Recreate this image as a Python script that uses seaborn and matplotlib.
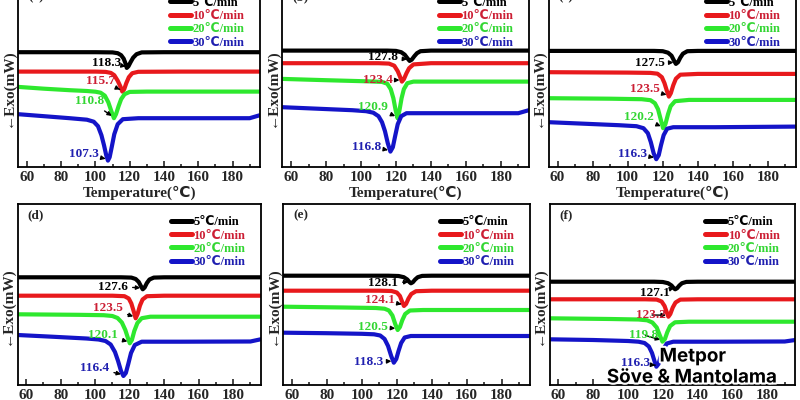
import numpy as np
import matplotlib.pyplot as plt
import matplotlib.patheffects as pe
import pandas as pd
import seaborn as sns

rates = ["5℃/min", "10℃/min", "20℃/min", "30℃/min"]
line_colors = ["#000000", "#e8191c", "#2ee82e", "#1414c8"]
text_colors = ["#000000", "#cc1f35", "#33d633", "#2020b0"]
panel_tags = ["(a)", "(b)", "(c)", "(d)", "(e)", "(f)"]

# peak temperatures written on each panel
peaks_a = [118.3, 115.7, 110.8, 107.3]
peaks_b = [127.8, 123.4, 120.9, 116.8]
peaks_c = [127.5, 123.5, 120.2, 116.3]
peaks_d = [127.6, 123.5, 120.1, 116.4]
peaks_e = [128.1, 124.1, 120.5, 118.3]
peaks_f = [127.1, 123.2, 119.8, 116.3]

# heat flow traces (arbitrary units)
a5_t = [55, 100, 110, 113, 115, 116.5, 117.5, 118.3, 119.3, 120.5, 122, 124, 127, 140, 196]
a5_h = [115, 115, 114.8, 114, 112, 108.5, 104, 99.3, 101, 105, 109.5, 113, 114.8, 115, 115]
a10_t = [55, 100, 106, 109, 111, 113, 114.5, 115.7, 116.8, 118, 119.5, 121.5, 125, 150, 196]
a10_h = [95.6, 95.6, 95.3, 94.3, 92, 86.5, 81, 75.6, 78, 84, 90, 94, 95.4, 95.6, 95.6]
a20_t = [55, 70, 85, 95, 100, 103, 105.5, 107.5, 109.5, 110.8, 112, 113.5, 115, 117, 120, 130, 196]
a20_h = [80.3, 78.5, 77, 76.2, 75.5, 74.5, 71.5, 65, 55, 49, 53, 61, 68, 73, 75.3, 75.6, 75.6]
a30_t = [55, 70, 85, 95, 99, 101.5, 103.5, 105, 106.3, 107.3, 108.3, 109.5, 111, 113, 116, 125, 190, 196]
a30_h = [53, 51, 49, 47.5, 45.5, 41, 32, 22, 12, 6.6, 10, 20, 33, 43, 48, 49, 49, 52]

b5_t = [55, 115, 120, 123, 125, 126.5, 127.8, 129, 130.5, 132, 134, 140, 196]
b5_h = [116.6, 116.6, 116.3, 115, 112.5, 109, 106.3, 107.5, 111, 114, 116, 116.6, 116.6]
b10_t = [55, 110, 116, 119, 121, 122.3, 123.4, 124.5, 126, 127.5, 130, 140, 196]
b10_h = [104, 104, 103.6, 101.5, 96, 90.5, 85.6, 88, 94, 99, 102.8, 104, 104]
b20_t = [55, 80, 105, 112, 115, 117, 118.5, 119.8, 120.9, 122, 123.2, 124.5, 126.5, 130, 196]
b20_h = [88.3, 87, 85.8, 85.3, 83.5, 78, 69, 57, 49, 57, 69, 78, 84, 85.6, 85.6]
b30_t = [55, 75, 95, 103, 107, 110, 112, 113.7, 115.3, 116.8, 118.2, 119.5, 121, 123, 126, 150, 190, 196]
b30_h = [60, 58.5, 57, 56, 54.5, 51, 45, 36, 24, 15.6, 20, 31, 43, 51, 54, 54, 54, 57]

c5_t = [55, 115, 120, 123, 125, 126.3, 127.5, 128.7, 130, 131.5, 134, 140, 196]
c5_h = [116.3, 116.3, 116, 114.5, 111.5, 107, 103.3, 105, 109.5, 113.5, 116, 116.3, 116.3]
c10_t = [55, 100, 113, 117, 119.5, 121, 122.4, 123.5, 124.6, 126, 127.5, 130, 140, 196]
c10_h = [95, 94.6, 94.3, 93.5, 90, 84, 76, 70.6, 74, 82, 88.5, 92.5, 93.3, 93.3]
c20_t = [55, 90, 108, 113, 115.5, 117.3, 118.8, 120.2, 121.5, 123, 124.5, 127, 135, 196]
c20_h = [69, 68.5, 68, 67, 64, 58, 48, 39, 43, 53, 61, 66, 67.3, 67.3]
c30_t = [55, 75, 95, 105, 109, 111.5, 113.2, 114.8, 116.3, 117.7, 119, 120.5, 122.5, 126, 150, 196]
c30_h = [45, 43.5, 42, 41, 39, 34, 25, 14, 8, 12, 22, 32, 38.5, 40, 40, 40.6]

d5_t = [55, 115, 121, 123.5, 125.3, 126.5, 127.6, 128.7, 130, 131.5, 134, 140, 196]
d5_h = [107.7, 107.7, 107.4, 106, 103, 99, 95.7, 97.5, 102, 105.5, 107.4, 107.7, 107.7]
d10_t = [55, 110, 117, 119.5, 121, 122.3, 123.5, 124.6, 126, 127.5, 130, 140, 196]
d10_h = [89.3, 89.3, 88.8, 86.5, 81.5, 74, 66.7, 71, 79.5, 85.5, 88.8, 89.3, 89.3]
d20_t = [55, 90, 105, 110, 113, 115.5, 117.5, 119, 120.1, 121.3, 122.7, 124.5, 127, 132, 196]
d20_h = [70.7, 70.2, 69.8, 69, 67, 62.5, 55, 47, 41.7, 45, 54, 62, 66.8, 68.3, 68.3]
d30_t = [55, 75, 95, 102, 106, 109, 111.5, 113.3, 115, 116.4, 117.8, 119.2, 120.8, 123, 127, 150, 190, 196]
d30_h = [50, 48.3, 46.5, 45.5, 44, 40.5, 33, 24, 14, 9, 12, 21, 32, 40, 43.3, 43.3, 43.5, 45.7]

e5_t = [55, 115, 121, 124, 126, 127.2, 128.1, 129.2, 130.5, 132, 134.5, 140, 196]
e5_h = [109.3, 109.3, 109, 107.8, 105.5, 103, 101.7, 102.8, 105.5, 107.8, 109.1, 109.3, 109.3]
e10_t = [55, 110, 117, 120, 121.8, 123, 124.1, 125.3, 126.7, 128.3, 131, 140, 196]
e10_h = [94.3, 94.3, 94, 92.5, 89, 83.5, 79, 81, 86.5, 91, 93.8, 94.3, 94.3]
e20_t = [55, 90, 108, 113, 115.5, 117.5, 119.1, 120.5, 121.8, 123.2, 124.8, 127.5, 135, 196]
e20_h = [78.3, 77.5, 77, 76.3, 74.5, 69.5, 61, 55, 58, 65, 71, 74.5, 75, 75]
e30_t = [55, 80, 100, 107, 110.5, 113, 115, 116.8, 118.3, 119.7, 121, 122.5, 124.5, 128, 150, 196]
e30_h = [52.3, 51.8, 51.2, 50.7, 49.5, 46, 39, 29, 22.3, 26, 34, 42, 47.5, 49, 49, 49]

f5_t = [55, 115, 120, 123, 125, 126.2, 127.1, 128.2, 129.5, 131, 133.5, 140, 196]
f5_h = [103.3, 103.3, 103, 101.8, 99.5, 97, 95.7, 96.8, 99.5, 101.8, 103.1, 103.3, 103.3]
f10_t = [55, 110, 116.5, 119.3, 121, 122.2, 123.2, 124.3, 125.7, 127.3, 130, 140, 196]
f10_h = [85.7, 85.7, 85.4, 83.5, 79, 73, 68.3, 71, 77.5, 82.5, 85.4, 85.7, 85.7]
f20_t = [55, 90, 106, 111, 114, 116.5, 118.3, 119.8, 121.2, 122.6, 124.2, 127, 135, 196]
f20_h = [66.7, 66, 65.5, 64.7, 62.5, 57.5, 49.5, 43.3, 46, 53, 59, 62.7, 63.3, 63.3]
f30_t = [55, 80, 100, 106, 109.5, 112, 113.8, 115.2, 116.3, 117.5, 118.8, 120.3, 122.3, 126, 150, 190, 196]
f30_h = [45.7, 45, 44, 43.3, 42, 38.5, 32, 24, 18.3, 21, 28.5, 36, 41.5, 43.3, 43.3, 43.5, 45]

panels = [
    ([a5_t, a10_t, a20_t, a30_t], [a5_h, a10_h, a20_h, a30_h], peaks_a),
    ([b5_t, b10_t, b20_t, b30_t], [b5_h, b10_h, b20_h, b30_h], peaks_b),
    ([c5_t, c10_t, c20_t, c30_t], [c5_h, c10_h, c20_h, c30_h], peaks_c),
    ([d5_t, d10_t, d20_t, d30_t], [d5_h, d10_h, d20_h, d30_h], peaks_d),
    ([e5_t, e10_t, e20_t, e30_t], [e5_h, e10_h, e20_h, e30_h], peaks_e),
    ([f5_t, f10_t, f20_t, f30_t], [f5_h, f10_h, f20_h, f30_h], peaks_f),
]

# layout: axes boxes (figure fraction) and where the peak labels sit
axes_pos = [
    [0.0229, 0.582, 0.302, 0.4525], [0.353, 0.582, 0.308, 0.4525], [0.686, 0.582, 0.309, 0.4525],
    [0.0219, 0.0375, 0.304, 0.4525], [0.354, 0.0375, 0.308, 0.4525], [0.687, 0.0375, 0.307, 0.4525],
]
legend_y = [0.99, 0.99, 0.99, 0.98, 0.98, 0.98]
label_xy = [
    [(106.5, 104.6), (103, 86.3), (96.8, 66.3), (93.3, 13.3)],
    [(112.7, 110), (109.5, 87.3), (107, 60.6), (103.2, 20.6)],
    [(112.6, 104), (109.8, 78), (106.5, 50), (102.8, 13.3)],
    [(110.4, 98.3), (107.5, 76.7), (104.6, 50), (99.8, 16.7)],
    [(112.1, 101.7), (110.3, 85), (106.4, 58.3), (103.6, 23.3)],
    [(115.7, 91.7), (113, 70), (109.2, 50), (104.6, 21.7)],
]

sns.set_style("ticks")
plt.rcParams['font.family'] = ['Liberation Serif', 'DejaVu Sans']
plt.rcParams['font.weight'] = 'bold'
plt.rcParams['axes.labelweight'] = 'bold'

fig = plt.figure(figsize=(8, 4), dpi=100)

for i, (ts, hs, pk) in enumerate(panels):
    ax = fig.add_axes(axes_pos[i])
    frames = [pd.DataFrame({"T": t, "h": h, "rate": r}) for t, h, r in zip(ts, hs, rates)]
    df = pd.concat(frames, ignore_index=True)
    sns.lineplot(data=df, x="T", y="h", hue="rate", palette=line_colors, estimator=None,
                 sort=False, lw=3.0, ax=ax)
    ax.set_xlim(55, 196)
    ax.set_ylim(0, 181)
    ax.set_xticks(np.arange(60, 181, 20))
    ax.set_xticks(np.arange(70, 191, 20), minor=True)
    ax.set_yticks([])
    ax.tick_params(axis='x', which='major', direction='in', length=4, width=1.2,
                   labelsize=11, pad=3, top=False)
    ax.tick_params(axis='x', which='minor', direction='in', length=2.5, width=1.2, top=False)
    for lbl in ax.get_xticklabels():
        lbl.set_fontweight('bold')
    for sp in ax.spines.values():
        sp.set_linewidth(1.3)
        sp.set_color('black')
    ax.set_xlabel("Temperature(℃)", fontsize=11, fontweight='bold', labelpad=1)
    ax.set_ylabel("←Exo(mW)", fontsize=11, fontweight='bold')
    ax.yaxis.set_label_coords(-0.014, 0.44)

    handles, labels = ax.get_legend_handles_labels()
    leg = ax.legend(handles, labels, loc='upper right', bbox_to_anchor=(0.972, legend_y[i]),
                    frameon=False, handlelength=1.7, handletextpad=0.1,
                    labelspacing=0.1, borderpad=0.2,
                    prop={'weight': 'bold', 'size': 9})
    for txt, c in zip(leg.get_texts(), text_colors):
        txt.set_color(c)
    for ln in leg.get_lines():
        ln.set_linewidth(3.6)

    ax.text(0.04, 0.94, panel_tags[i], transform=ax.transAxes, fontsize=9.5,
            fontweight='bold', ha='left', va='center')

    for j in range(4):
        k = int(np.argmin(hs[j]))
        ax.annotate(f"{pk[j]:.1f}", xy=(ts[j][k] - 0.6, hs[j][k] + 1.5),
                    xytext=label_xy[i][j], ha='center', va='center',
                    fontsize=9.5, fontweight='bold', color=text_colors[j],
                    arrowprops=dict(arrowstyle='-|>', color='black', lw=1,
                                    mutation_scale=6, shrinkA=1, shrinkB=1))

wm = [pe.withStroke(linewidth=3, foreground='white')]
fig.text(0.866, 1 - 357 / 400, "Metpor", ha='center', va='center', fontsize=13.5,
         fontweight='bold', family='Inter', color='black', path_effects=wm)
fig.text(0.865, 1 - 378 / 400, "Söve & Mantolama", ha='center', va='center', fontsize=13.5,
         fontweight='bold', family='Inter', color='black', path_effects=wm)

fig.savefig("out.png", dpi=100)
